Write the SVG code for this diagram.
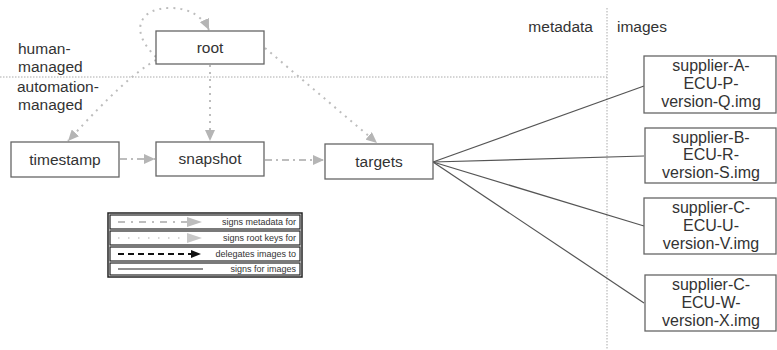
<svg xmlns="http://www.w3.org/2000/svg" width="777" height="350" viewBox="0 0 777 350">
<style>
text{font-family:"Liberation Sans",Arial,sans-serif;fill:#333}
.lbl{font-size:15.5px}
.img{font-size:16px;text-anchor:middle}
.node{fill:#fff;stroke:#666;stroke-width:1.3}
.key{fill:none;stroke:#bdbdbd;stroke-width:2;stroke-dasharray:2 5}
.meta{fill:none;stroke:#bdbdbd;stroke-width:2;stroke-dasharray:7 4 2 4}
.sig{fill:none;stroke:#555;stroke-width:1.2}
.div{fill:none;stroke:#aaa;stroke-width:1;stroke-dasharray:1.5 1.5}
.leg{font-size:9px;text-anchor:end;fill:#333}
</style>
<defs>
<marker id="ga" markerUnits="userSpaceOnUse" markerWidth="12" markerHeight="10" refX="11" refY="5" orient="auto">
<path d="M0,0 L11,5 L0,10 z" fill="#b5b5b5" stroke="none"/>
</marker>
</defs>
<g id="dividers">
<line class="div" x1="0" y1="77" x2="607" y2="77"/>
<line class="div" x1="607" y1="8" x2="607" y2="350"/>
</g>
<g id="zone-labels">
<text class="lbl" x="18" y="54">human-</text>
<text class="lbl" x="18" y="72">managed</text>
<text class="lbl" x="17" y="92">automation-</text>
<text class="lbl" x="18" y="110">managed</text>
<text class="lbl" x="593" y="32" text-anchor="end">metadata</text>
<text class="lbl" x="617" y="32">images</text>
</g>
<g id="connectors">
<path class="key" d="M156,57 C128,30 140,8 170,8 C190,8 203,17 209,30" marker-end="url(#ga)"/>
<path class="key" d="M156,60 C135,72 110,95 68,141" marker-end="url(#ga)"/>
<path class="key" d="M210,65 L210,141" marker-end="url(#ga)"/>
<path class="key" d="M265,48 L377,143" marker-end="url(#ga)"/>
<path class="meta" d="M120,159 L155,159" marker-end="url(#ga)"/>
<path class="meta" d="M265,160 L324,160" marker-end="url(#ga)"/>
<path class="sig" d="M433,162 L644,86"/>
<path class="sig" d="M433,162 L644,156"/>
<path class="sig" d="M433,162 L644,226"/>
<path class="sig" d="M433,162 L644,303"/>
</g>
<g id="root">
<rect class="node" x="156" y="31" width="108" height="33"/>
<text class="lbl" x="210" y="53" text-anchor="middle">root</text>
</g>
<g id="timestamp">
<rect class="node" x="11" y="142" width="108" height="35"/>
<text class="lbl" x="65" y="165" text-anchor="middle">timestamp</text>
</g>
<g id="snapshot">
<rect class="node" x="156" y="142" width="108" height="34"/>
<text class="lbl" x="210" y="164" text-anchor="middle">snapshot</text>
</g>
<g id="targets">
<rect class="node" x="325" y="144" width="108" height="35"/>
<text class="lbl" x="379" y="167" text-anchor="middle">targets</text>
</g>
<g id="image-A">
<rect class="node" x="644" y="56" width="132" height="57"/>
<text class="img" x="711" y="71">supplier-A-</text>
<text class="img" x="711" y="89">ECU-P-</text>
<text class="img" x="711" y="107">version-Q.img</text>
</g>
<g id="image-B">
<rect class="node" x="645" y="128" width="131" height="55"/>
<text class="img" x="711" y="143">supplier-B-</text>
<text class="img" x="711" y="160">ECU-R-</text>
<text class="img" x="711" y="178">version-S.img</text>
</g>
<g id="image-C">
<rect class="node" x="644" y="198" width="132" height="56"/>
<text class="img" x="711" y="213">supplier-C-</text>
<text class="img" x="711" y="231">ECU-U-</text>
<text class="img" x="711" y="249">version-V.img</text>
</g>
<g id="image-D">
<rect class="node" x="645" y="275" width="131" height="56"/>
<text class="img" x="711" y="290">supplier-C-</text>
<text class="img" x="711" y="308">ECU-W-</text>
<text class="img" x="711" y="326">version-X.img</text>
</g>
<g id="legend">
<rect x="108" y="213" width="194" height="64" fill="#fff" stroke="#222" stroke-width="1.5"/>
<rect x="110" y="215" width="190" height="14" fill="none" stroke="#222" stroke-width="1.2"/>
<rect x="110" y="231" width="190" height="14" fill="none" stroke="#222" stroke-width="1.2"/>
<rect x="110" y="247" width="190" height="14" fill="none" stroke="#222" stroke-width="1.2"/>
<rect x="110" y="263" width="190" height="12" fill="none" stroke="#222" stroke-width="1.2"/>
<line x1="118" y1="222" x2="188" y2="222" stroke="#bdbdbd" stroke-width="2" stroke-dasharray="7 6 2 6"/>
<path d="M187,217 L202,222 L187,227 z" fill="#bdbdbd"/>
<line x1="118" y1="238" x2="186" y2="238" stroke="#c8c8c8" stroke-width="1.5" stroke-dasharray="1.5 8.5"/>
<path d="M187,233 L202,238 L187,243 z" fill="#c8c8c8"/>
<line x1="118" y1="254" x2="192" y2="254" stroke="#111" stroke-width="1.8" stroke-dasharray="6 4"/>
<path d="M191,250 L201,254 L191,258 z" fill="#111"/>
<line x1="118" y1="269" x2="203" y2="269" stroke="#222" stroke-width="1.2"/>
<text class="leg" x="296" y="225">signs metadata for</text>
<text class="leg" x="296" y="241">signs root keys for</text>
<text class="leg" x="296" y="257">delegates images to</text>
<text class="leg" x="296" y="272">signs for images</text>
</g>
</svg>
